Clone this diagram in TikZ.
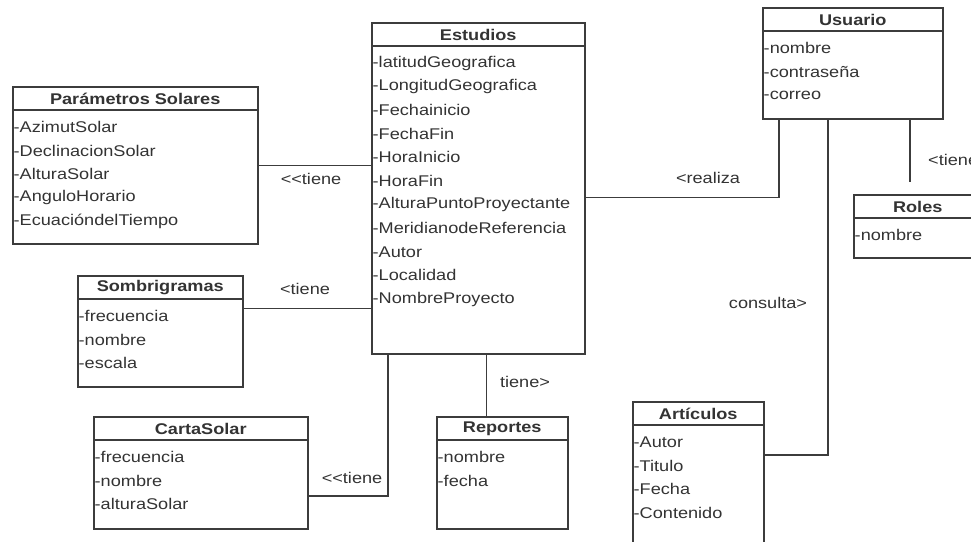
\documentclass[tikz,border=0pt]{standalone}
\usepackage{fontspec}
\setmainfont{Liberation Sans}[FakeStretch=1.17]
\definecolor{linecol}{HTML}{3C3C3C}
\definecolor{txtcol}{HTML}{333333}

\tikzset{
  classbox/.style={draw=linecol, line width=1.5pt, inner sep=0pt, anchor=north west, fill=white},
  ctitle/.style={font=\fontsize{15.5}{18}\selectfont\bfseries, text=txtcol, inner sep=0pt},
  cattr/.style={anchor=west, text=txtcol, inner sep=0pt},
  assoc/.style={draw=linecol, line width=1.5pt},
  rel/.style={text=txtcol, inner sep=0pt},
}

% \umlclass{name}{x}{y}{width}{height}{title}{attributes}
\newcommand\umlclass[7]{%
  \node[classbox, minimum width=#4pt, minimum height=#5pt] (#1) at (#2,#3) {};
  \draw[assoc] ([yshift=-24pt]#1.north west) -- ([yshift=-24pt]#1.north east);
  \node[ctitle] (#1-title) at ([yshift=-12.5pt]#1.north) {#6};
  \foreach \a [count=\i] in {#7} {
    \node[cattr] (#1-a\i) at ([xshift=1.5pt, yshift={-41pt-(\i-1)*23.6pt}]#1.north west) {-\a};
  }%
}

\begin{document}
\begin{tikzpicture}[x=1pt, y=-1pt, font=\fontsize{15.5}{18}\selectfont]
\useasboundingbox (0,0) rectangle (971,541);
\clip (0,0) rectangle (971,541);
\fill[white] (0,0) rectangle (971,541);

% classes
\umlclass{est}{371}{22}{213}{331}{Estudios}{latitudGeografica,LongitudGeografica,Fechainicio,FechaFin,HoraInicio,HoraFin,AlturaPuntoProyectante,MeridianodeReferencia,Autor,Localidad,NombreProyecto}
\umlclass{ps}{12}{86}{245}{157}{Parámetros Solares}{AzimutSolar,DeclinacionSolar,AlturaSolar,AnguloHorario,EcuacióndelTiempo}
\umlclass{somb}{77}{275}{165}{111}{Sombrigramas}{frecuencia,nombre,escala}
\umlclass{carta}{93}{416}{214}{112}{CartaSolar}{frecuencia,nombre,alturaSolar}
\umlclass{rep}{436}{416}{131}{112}{Reportes}{nombre,fecha}
\umlclass{art}{632}{401}{131}{160}{Artículos}{Autor,Titulo,Fecha,Contenido}
\umlclass{usu}{762}{7}{180}{111}{Usuario}{nombre,contraseña,correo}
\umlclass{rol}{853}{194}{128}{63}{Roles}{nombre}

% associations
\draw[assoc] (ps.east) -- (ps.east -| est.west);
\draw[assoc] ([yshift=23pt]somb.east) -- ([yshift=23pt]somb.east -| est.west);
\draw[assoc] ([xshift=17pt]est.south west) |- ([yshift=-23pt]carta.east);
\draw[assoc] ([xshift=-16pt]rep.north) -- ([xshift=-16pt]rep.north |- est.south);
\draw[assoc] ([yshift=-9pt]est.east) -| ([xshift=17pt]usu.south west);
\draw[assoc] ([xshift=66pt]usu.south west) |- ([yshift=27pt]art.east);
\coordinate (rolend) at ([xshift=57pt, yshift=12pt]rol.north west);
\draw[assoc] (usu.south west -| rolend) -- (rolend);

% association labels
\node[rel] (l-ps) at (311,179) {<\kern0pt<tiene};
\node[rel] (l-somb) at (305,289) {<tiene};
\node[rel] (l-carta) at (352,478) {<\kern0pt<tiene};
\node[rel] (l-rep) at (525,382) {tiene>};
\node[rel] (l-usu) at (708,178) {<realiza};
\node[rel] (l-art) at (768,303) {consulta>};
\node[rel, anchor=west] (l-rol) at (928,160) {<tiene};
\end{tikzpicture}
\end{document}
